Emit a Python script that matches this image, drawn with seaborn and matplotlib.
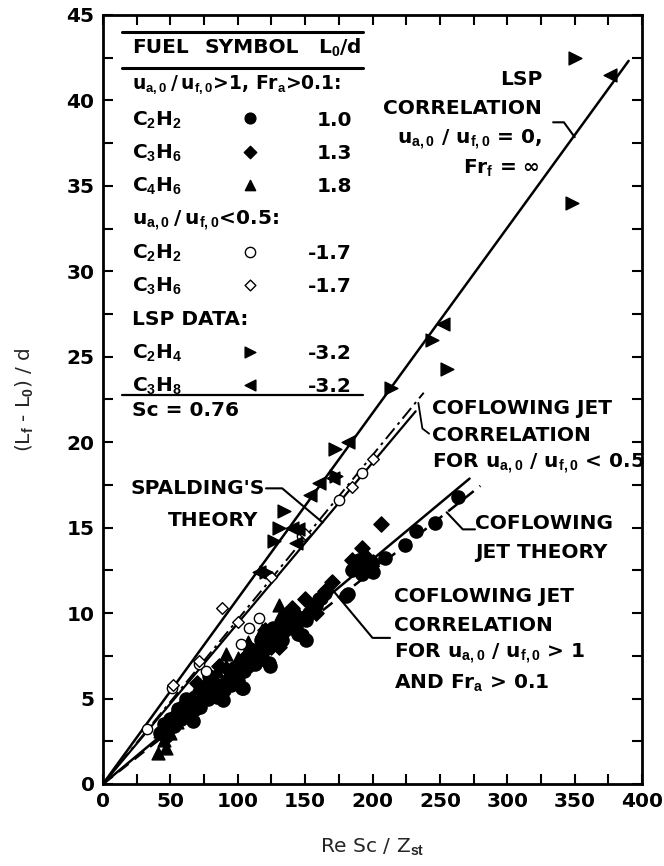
import matplotlib
matplotlib.use("Agg")
import matplotlib.pyplot as plt
import seaborn as sns
import pandas as pd

# ---------------- data ----------------
# u_a,0/u_f,0 > 1, Fr_a > 0.1
c2h2_hi_x = [42, 45, 48, 50, 53, 55, 58, 60, 63, 65, 68, 70, 72, 75, 78, 80, 83, 85, 88, 90,
             93, 95, 98, 100, 103, 105, 108, 110, 113, 115, 118, 120, 123, 125, 128, 130, 133,
             135, 138, 140, 143, 145, 148, 150, 153, 155, 158, 160, 162, 165, 180, 182, 185,
             188, 190, 192, 195, 198, 200, 209.6, 224, 232.5, 246.5, 263.5,
             47, 67, 89, 104, 124, 151, 62, 79, 109, 126, 136, 151, 56, 73, 97, 117, 142]
c2h2_hi_y = [3.0, 3.5, 3.2, 3.8, 3.4, 4.0, 3.8, 4.3, 4.1, 4.6, 4.4, 4.8, 4.5, 5.2, 5.0, 5.4, 5.6,
             5.1, 5.8, 5.5, 6.1, 5.8, 6.3, 6.0, 5.6, 6.6, 6.9, 7.2, 7.0, 7.6, 7.3, 7.9, 7.1, 8.2,
             8.6, 8.9, 8.4, 9.0, 9.3, 9.5, 9.1, 8.8, 8.7, 9.8, 10.0, 10.2, 10.5, 10.8, 10.9, 11.2,
             11.0, 11.1, 12.5, 12.8, 13.1, 12.3, 12.6, 12.9, 12.4, 13.2, 14.0, 14.8, 15.3, 16.8,
             2.8, 3.7, 4.9, 5.6, 6.9, 8.4, 5.0, 6.3, 7.9, 9.1, 9.8, 9.6, 4.4, 5.6, 6.8, 8.4, 10.0]
c3h6_hi_x = [45, 52, 58, 65, 75, 82, 95, 105, 110, 120, 125, 140, 150, 165, 170, 185, 190, 195,
             200, 192, 206.6, 70, 86, 100, 113, 131, 158]
c3h6_hi_y = [3.3, 3.9, 4.5, 5.0, 5.5, 6.0, 6.5, 7.4, 7.8, 9.0, 8.0, 10.3, 10.8, 11.3, 11.8, 13.1,
             12.4, 13.3, 13.0, 13.8, 15.2, 5.9, 6.9, 7.0, 7.7, 8.0, 10.0]
c4h6_hi_x = [40.6, 47, 42, 45, 50, 55, 64, 70, 80, 91.5, 91.5, 100, 118, 130.6, 132, 130, 60, 85,
             76, 108, 124]
c4h6_hi_y = [1.8, 2.1, 3.1, 2.6, 3.0, 3.6, 4.9, 5.6, 6.2, 7.6, 6.9, 7.4, 9.0, 10.5, 9.95, 9.5,
             4.4, 6.6, 5.9, 8.3, 8.9]

# u_a,0/u_f,0 < 0.5
c2h2_lo_x = [33, 51, 71.6, 76.5, 102.6, 108.5, 116, 148, 175, 192]
c2h2_lo_y = [3.2, 5.6, 7.0, 6.6, 8.2, 9.1, 9.7, 14.5, 16.6, 18.2]
c3h6_lo_x = [52, 71.6, 88.6, 100, 125, 150, 185, 200]
c3h6_lo_y = [5.8, 7.2, 10.3, 9.5, 12.1, 14.6, 17.4, 19.0]

# LSP data
lsp_c2h4_x = [350, 348, 255, 244, 214, 172.5, 172.6, 134, 127, 121, 131]
lsp_c2h4_y = [42.5, 34.0, 24.3, 26.0, 23.2, 19.6, 18.0, 16.0, 14.2, 12.4, 15.0]
lsp_c3h8_x = [376, 252, 182, 160, 154, 140, 145, 143, 116, 171]
lsp_c3h8_y = [41.5, 26.9, 20.0, 17.6, 16.9, 15.0, 14.9, 14.1, 12.4, 17.9]

# Correlation / theory lines through the origin: slope and end abscissa
lsp_corr_slope, lsp_corr_xmax = 0.1085, 390
spalding_slope, spalding_xmax = 0.094, 232
cof_lo_slope, cof_lo_xmax = 0.0962, 238
cof_theory_slope, cof_theory_xmax = 0.0657, 272
cof_hi_slope, cof_hi_xmax = 0.0623, 280

# legend table
legend_fuels = ["C$_2$H$_2$", "C$_3$H$_6$", "C$_4$H$_6$", "C$_2$H$_2$", "C$_3$H$_6$",
                "C$_2$H$_4$", "C$_3$H$_8$"]
legend_l0 = ["1.0", "1.3", "1.8", "-1.7", "-1.7", "-3.2", "-3.2"]

# ---------------- style ----------------
sns.set_theme(style="ticks")
plt.rcParams["font.family"] = ["DejaVu Sans"]
plt.rcParams["font.weight"] = "bold"
plt.rcParams["mathtext.fontset"] = "custom"
plt.rcParams["mathtext.rm"] = "Liberation Sans:bold"
plt.rcParams["mathtext.it"] = "Liberation Sans:bold"
plt.rcParams["mathtext.bf"] = "Liberation Sans:bold"
plt.rcParams["mathtext.default"] = "rm"

fig = plt.figure(figsize=(6.64, 8.66), dpi=100)
ax = fig.add_axes([0.155, 0.0947, 0.812, 0.888])

FS = 14.5
K = "black"

# lines
def origin_line(slope, xmax, **kw):
    ax.plot([0, xmax], [0, slope * xmax], color=K, zorder=2, **kw)

origin_line(lsp_corr_slope, lsp_corr_xmax, lw=1.8)
origin_line(spalding_slope, spalding_xmax, lw=1.6)
origin_line(cof_lo_slope, cof_lo_xmax, lw=1.4, linestyle=(0, (7, 2.5, 1.5, 2.5)))
origin_line(cof_theory_slope, cof_theory_xmax, lw=1.8)
origin_line(cof_hi_slope, cof_hi_xmax, lw=1.8, linestyle=(0, (5, 3)))

# scatter groups
groups = [
    (c2h2_hi_x, c2h2_hi_y, "o", K, 90),
    (c3h6_hi_x, c3h6_hi_y, "D", K, 60),
    (c4h6_hi_x, c4h6_hi_y, "^", K, 85),
    (c2h2_lo_x, c2h2_lo_y, "o", "white", 55),
    (c3h6_lo_x, c3h6_lo_y, "D", "white", 35),
    (lsp_c2h4_x, lsp_c2h4_y, ">", K, 85),
    (lsp_c3h8_x, lsp_c3h8_y, "<", K, 85),
]
for gx, gy, mk, fc, sz in groups:
    df = pd.DataFrame({"x": gx, "y": gy})
    sns.scatterplot(data=df, x="x", y="y", marker=mk, s=sz, color=fc, edgecolor=K,
                    linewidth=1.0, ax=ax, legend=False, zorder=3)

# axes
ax.set_xlim(0, 400)
ax.set_ylim(0, 45)
xt = list(range(0, 401, 25))
ax.set_xticks(xt)
ax.set_xticklabels([str(v) if v % 50 == 0 else "" for v in xt])
yt = [v * 2.5 for v in range(0, 19)]
ax.set_yticks(yt)
ax.set_yticklabels([str(int(v)) if v % 5 == 0 else "" for v in yt])
ax.tick_params(direction="in", length=7, width=1.5, top=True, right=True,
               labelsize=FS, pad=6, colors=K)
for s in ax.spines.values():
    s.set_linewidth(2)
    s.set_color(K)
ax.set_xlabel("Re Sc / Z$_{st}$", fontsize=FS, fontweight="normal", labelpad=18)
ax.set_ylabel("(L$_f$ - L$_0$) / d", fontsize=FS, fontweight="normal", labelpad=22)
ax.grid(False)

# legend table
tkw = dict(fontsize=FS, color=K, va="center")
xl, xs, xr = 21.5, 109, 184.8
ax.plot([14, 193], [44.0, 44.0], color=K, lw=2.2)
ax.text(xl, 43.1, "FUEL", ha="left", **tkw)
ax.text(75.5, 43.1, "SYMBOL", ha="left", **tkw)
ax.text(159.5, 43.1, "L$_0$/d", ha="left", **tkw)
ax.plot([14, 193], [41.9, 41.9], color=K, lw=2.2)
ax.text(xl, 40.9, "u$_{a,0}$\u2009/\u2009u$_{f,0}$>1, Fr$_a$>0.1:", ha="left",
        fontsize=13.5, color=K, va="center")
ax.text(xl, 32.95, "u$_{a,0}$\u2009/\u2009u$_{f,0}$<0.5:", ha="left", **tkw)
ax.text(xl, 27.2, "LSP DATA:", ha="left", **tkw)
row_y = [38.85, 36.9, 34.95, 31.05, 29.1, 25.2, 23.25]
sym = [("o", K, 60), ("D", K, 40), ("^", K, 55), ("o", "white", 55), ("D", "white", 30),
       (">", K, 60), ("<", K, 60)]
for name, val, yy, (mk, fc, sz) in zip(legend_fuels, legend_l0, row_y, sym):
    ax.text(xl, yy, name, ha="left", **tkw)
    ax.scatter([xs], [yy + 0.1], marker=mk, s=sz, facecolor=fc, edgecolor=K, lw=1.0, zorder=4)
    ax.text(xr, yy, val, ha="right", **tkw)
ax.plot([14, 193], [22.75, 22.75], color=K, lw=1.6)
ax.text(xl, 21.85, "Sc = 0.76", ha="left", **tkw)

# annotations
ax.text(326, 41.2, "LSP", ha="right", **tkw)
ax.text(326, 39.55, "CORRELATION", ha="right", **tkw)
ax.text(326, 37.7, "u$_{a,0}$ / u$_{f,0}$ = 0,", ha="right", **tkw)
ax.text(324, 36.0, "Fr$_f$ = ∞", ha="right", **tkw)
ax.plot([334, 342, 350], [38.72, 38.72, 37.85], color=K, lw=1.5)

ax.text(244, 22.0, "COFLOWING JET", ha="left", **tkw)
ax.text(244, 20.4, "CORRELATION", ha="left", **tkw)
ax.text(244, 18.75, "FOR u$_{a,0}$ / u$_{f,0}$ < 0.5", ha="left", **tkw)
ax.plot([242, 237, 234], [20.5, 20.8, 22.3], color=K, lw=1.3)

ax.text(120, 17.3, "SPALDING'S", ha="right", **tkw)
ax.text(115, 15.4, "THEORY", ha="right", **tkw)
ax.plot([121, 133, 163], [17.3, 17.3, 15.3], color=K, lw=1.5)

ax.text(276, 15.25, "COFLOWING", ha="left", **tkw)
ax.text(276, 13.55, "JET THEORY", ha="left", **tkw)
ax.plot([276, 267, 255], [14.9, 14.9, 15.9], color=K, lw=1.5)

ax.text(216, 10.95, "COFLOWING JET", ha="left", **tkw)
ax.text(216, 9.3, "CORRELATION", ha="left", **tkw)
ax.text(216, 7.6, "FOR u$_{a,0}$ / u$_{f,0}$ > 1", ha="left", **tkw)
ax.text(216, 5.9, "AND Fr$_a$ > 0.1", ha="left", **tkw)
ax.plot([213, 200, 171], [8.55, 8.55, 11.3], color=K, lw=1.5)

fig.savefig("out.png", dpi=100)
